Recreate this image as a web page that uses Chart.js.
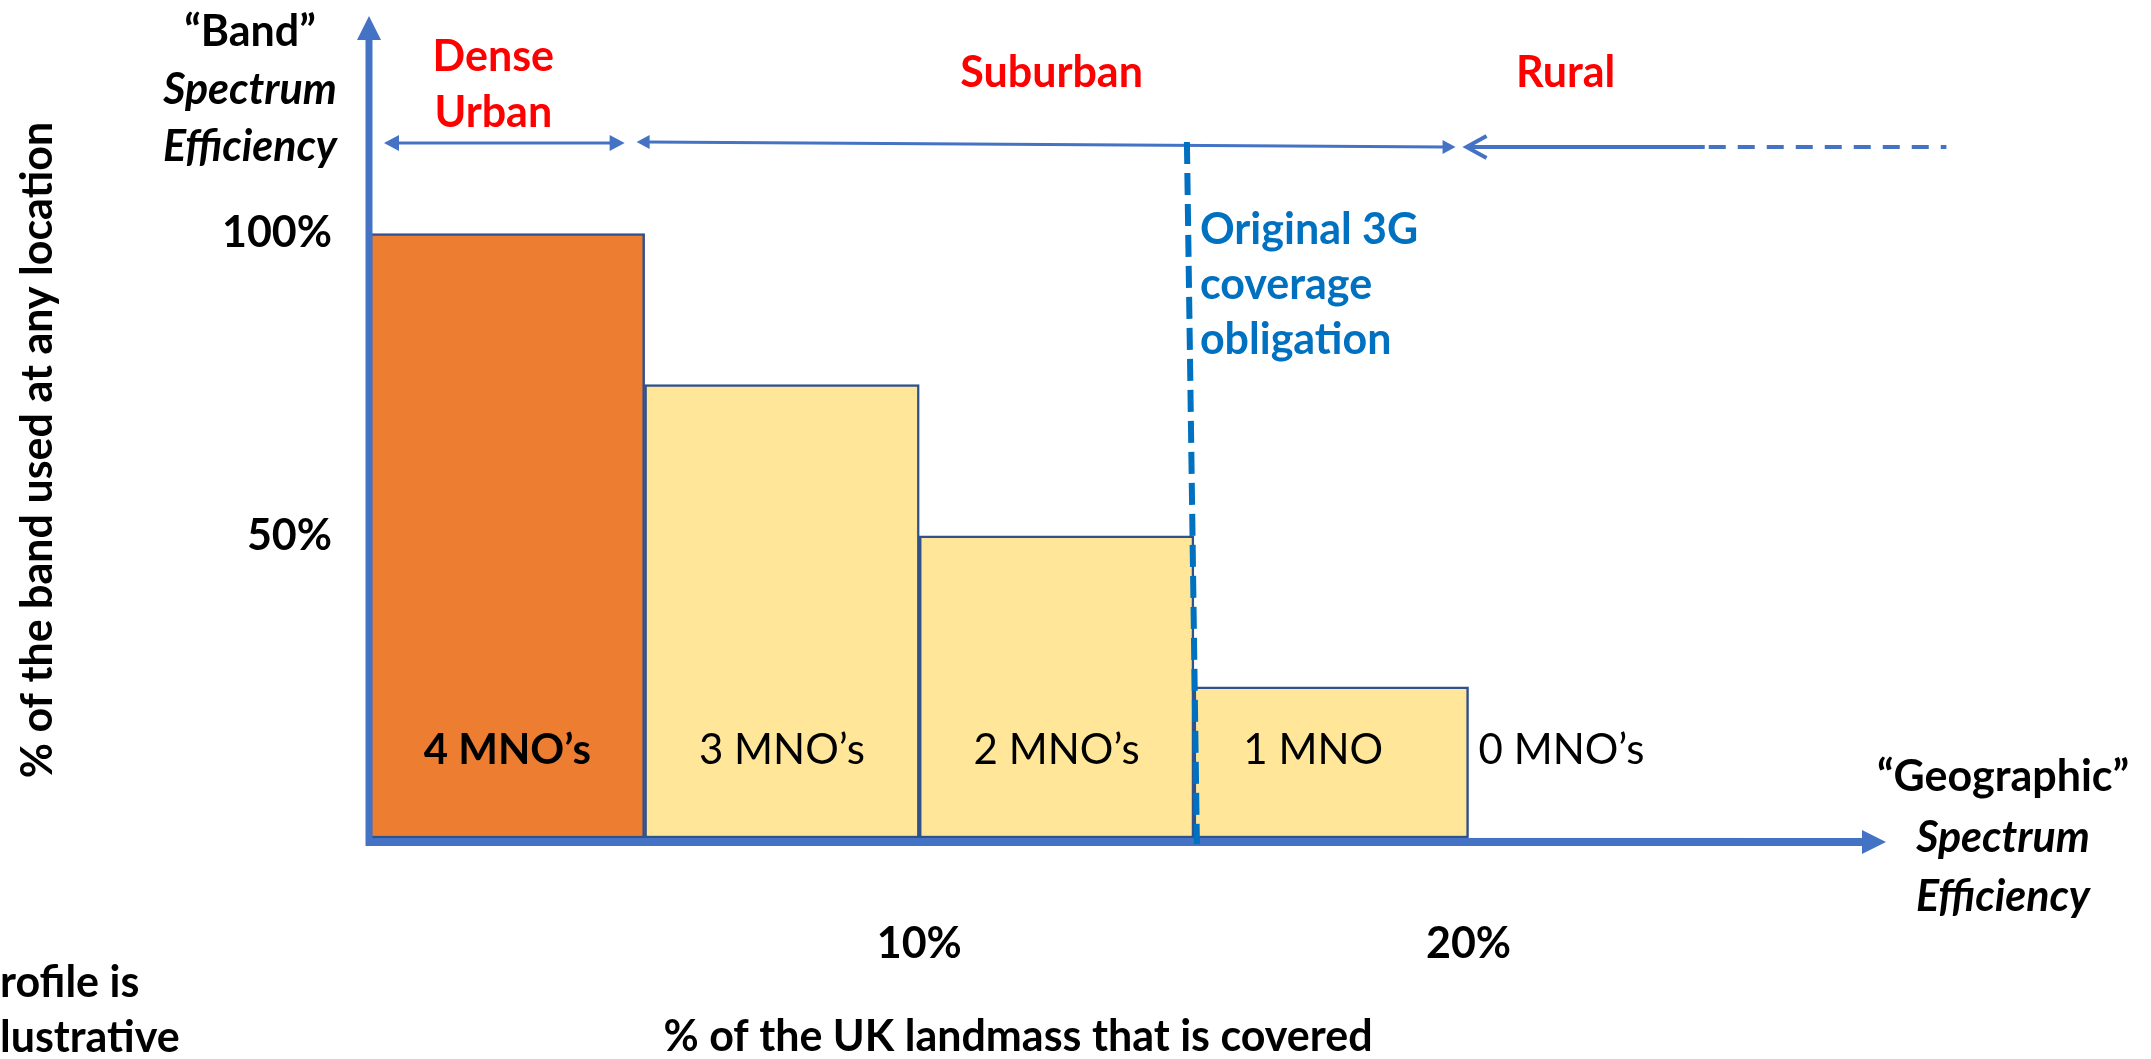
<!DOCTYPE html>
<html>
<head>
<meta charset="utf-8">
<script src="https://cdn.jsdelivr.net/npm/chart.js@4.4.1/dist/chart.umd.min.js"></script>
<style>
  html, body { margin: 0; padding: 0; background: #fff; overflow: hidden; }
  canvas { display: block; }
</style>
</head>
<body>
<canvas id="chart" width="2151" height="1059"></canvas>
<script>
/* ---------------------------------------------------------------
   DATA
--------------------------------------------------------------- */
const mnoLabels = ["4 MNO’s", "3 MNO’s", "2 MNO’s", "1 MNO", "0 MNO’s"];
const coverageMid = [2.5, 7.5, 12.5, 17.5, 22.5];   // % of UK landmass (centre of each band)
const bandUsed = [100, 75, 50, 25, 0];               // % of the band used
const yTicks = [50, 100];
const xTicks = [10, 20];
const areaNames = ["Dense\nUrban", "Suburban", "Rural"];
const areaFrom = [0, 5, 20];
const areaTo = [5, 20, 28.7];
const obligationAt = 15;                             // original 3G coverage obligation (%)

/* ---------------------------------------------------------------
   STYLE
--------------------------------------------------------------- */
const FONT = "Lato";
const AXIS_BLUE = "#4472C4";
const BAR_COLOURS = ["#ED7D31", "#FFE699", "#FFE699", "#FFE699", "#FFE699"];

function arrowHead(ctx, x, y, dir, len, half, open) {
    ctx.beginPath();
    ctx.moveTo(x + dir * len, y - half);
    ctx.lineTo(x, y);
    ctx.lineTo(x + dir * len, y + half);
    if (open) { ctx.stroke(); } else { ctx.closePath(); ctx.fill(); }
}

function text(ctx, str, x, y, font, colour, align) {
    ctx.font = font;
    ctx.fillStyle = colour;
    ctx.textAlign = align || "center";
    ctx.textBaseline = "middle";
    ctx.fillText(str, x, y);
}

/* ---------------------------------------------------------------
   ANNOTATIONS (axes, arrows, labels)
--------------------------------------------------------------- */
const annotations = {
    id: "annotations",
    afterDatasetsDraw(chart) {
        const { ctx, chartArea: a, scales: { x, y } } = chart;
        const bold = "bold 43px " + FONT;
        const boldItalic = "italic bold 43px " + FONT;
        ctx.save();

        // bar labels
        const meta = chart.getDatasetMeta(0);
        meta.data.forEach((bar, i) => {
            const ty = a.bottom - 88;
            const f = (i === 0 ? "bold " : "") + "42px " + FONT;
            if (bandUsed[i] === 0) {
                text(ctx, mnoLabels[i], bar.x - bar.width / 2 + 10, ty, f, "#000", "left");
            } else {
                text(ctx, mnoLabels[i], bar.x - (i === 3 ? 18 : 0), ty, f, "#000");
            }
        });

        // axes with arrow heads
        ctx.strokeStyle = AXIS_BLUE;
        ctx.fillStyle = AXIS_BLUE;
        ctx.lineWidth = 7;
        ctx.beginPath();
        ctx.moveTo(a.left - 1, a.bottom + 8);
        ctx.lineTo(a.left - 1, a.top + 20);
        ctx.stroke();
        ctx.beginPath();
        ctx.moveTo(a.left - 13, a.top + 24);
        ctx.lineTo(a.left - 1, a.top);
        ctx.lineTo(a.left + 11, a.top + 24);
        ctx.closePath();
        ctx.fill();

        ctx.lineWidth = 8;
        ctx.beginPath();
        ctx.moveTo(a.left + 2, a.bottom + 4);
        ctx.lineTo(a.right - 20, a.bottom + 4);
        ctx.stroke();
        arrowHead(ctx, a.right, a.bottom + 4, -1, 24, 12, false);

        // area arrows
        const ay = y.getPixelForValue(115);
        ctx.lineWidth = 3;
        // dense urban
        let x0 = x.getPixelForValue(areaFrom[0]) + 14, x1 = x.getPixelForValue(areaTo[0]) - 20;
        ctx.beginPath(); ctx.moveTo(x0 + 10, ay); ctx.lineTo(x1 - 10, ay); ctx.stroke();
        arrowHead(ctx, x0, ay, 1, 15, 8, false);
        arrowHead(ctx, x1, ay, -1, 15, 8, false);
        // suburban
        x0 = x.getPixelForValue(areaFrom[1]) - 8; x1 = x.getPixelForValue(areaTo[1]) - 13;
        ctx.beginPath(); ctx.moveTo(x0 + 10, ay - 1); ctx.lineTo(x1 - 10, ay + 4); ctx.stroke();
        arrowHead(ctx, x0, ay - 1, 1, 13, 7, false);
        arrowHead(ctx, x1, ay + 4, -1, 13, 7, false);
        // rural
        x0 = x.getPixelForValue(areaFrom[2]) - 2;
        const xs = x.getPixelForValue(24.3);
        x1 = x.getPixelForValue(areaTo[2]);
        ctx.lineWidth = 4;
        ctx.beginPath(); ctx.moveTo(x0 + 2, ay + 4); ctx.lineTo(xs, ay + 4); ctx.stroke();
        arrowHead(ctx, x0, ay + 4, 1, 20, 11, true);
        ctx.setLineDash([17, 12]);
        ctx.beginPath(); ctx.moveTo(xs + 4, ay + 4); ctx.lineTo(x1, ay + 4); ctx.stroke();
        ctx.setLineDash([]);

        // area names
        const red = "#FF0000";
        const dx = (x.getPixelForValue(areaFrom[0]) + x.getPixelForValue(areaTo[0])) / 2 - 14;
        areaNames[0].split("\n").forEach((s, i) => text(ctx, s, dx, 57 + i * 56, bold, red));
        text(ctx, areaNames[1], (x.getPixelForValue(areaFrom[1]) + x.getPixelForValue(areaTo[1])) / 2 - 5, 73, bold, red);
        text(ctx, areaNames[2], x.getPixelForValue(areaFrom[2]) + 97, 73, bold, red);

        // obligation line
        const ox = x.getPixelForValue(obligationAt);
        ctx.strokeStyle = "#0070C0";
        ctx.lineWidth = 6;
        ctx.setLineDash([22, 9]);
        ctx.beginPath(); ctx.moveTo(ox - 7, ay - 1); ctx.lineTo(ox + 3, a.bottom + 6); ctx.stroke();
        ctx.setLineDash([]);
        ["Original 3G", "coverage", "obligation"].forEach((s, i) =>
            text(ctx, s, ox + 6, 230 + i * 55, bold, "#0070C0", "left"));

        // axis captions
        text(ctx, "“Band”", 250, 32, bold, "#000");
        text(ctx, "Spectrum", 250, 90, boldItalic, "#000");
        text(ctx, "Efficiency", 250, 147, boldItalic, "#000");

        text(ctx, "“Geographic”", 2003, 777, bold, "#000");
        text(ctx, "Spectrum", 2003, 838, boldItalic, "#000");
        text(ctx, "Efficiency", 2003, 897, boldItalic, "#000");

        text(ctx, "% of the UK landmass that is covered", 1018, 1037, bold, "#000");
        text(ctx, "rofile is", 0, 983, bold, "#000", "left");
        text(ctx, "lustrative", 0, 1038, bold, "#000", "left");

        ctx.translate(38, 450);
        ctx.rotate(-Math.PI / 2);
        text(ctx, "% of the band used at any location", 0, 0, bold, "#000");

        ctx.restore();
    }
};

/* ---------------------------------------------------------------
   CHART
--------------------------------------------------------------- */
new Chart(document.getElementById("chart"), {
    type: "bar",
    data: {
        datasets: [{
            data: coverageMid.map((v, i) => ({ x: v, y: bandUsed[i] })),
            backgroundColor: BAR_COLOURS,
            borderColor: "#2F528F",
            borderWidth: bandUsed.map(v => v === 0 ? 0 : 2.5),
            borderSkipped: false,
            barPercentage: 1,
            categoryPercentage: 1
        }]
    },
    options: {
        responsive: false,
        animation: false,
        layout: { padding: { top: 16, right: 265, left: 0, bottom: 0 } },
        plugins: { legend: { display: false }, tooltip: { enabled: false } },
        scales: {
            x: {
                type: "linear",
                min: 0,
                max: 27.6,
                offset: false,
                grid: { display: false, drawTicks: false },
                border: { display: false },
                afterBuildTicks: s => { s.ticks = xTicks.map(v => ({ value: v })); },
                afterFit: s => { s.height = 221; s.paddingLeft = 0; s.paddingRight = 0; },
                ticks: {
                    callback: v => v + "%",
                    color: "#000",
                    font: { family: FONT, size: 43, weight: "bold" },
                    padding: 80,
                    maxRotation: 0,
                    autoSkip: false
                }
            },
            y: {
                min: 0,
                max: 136,
                grid: { display: false, drawTicks: false },
                border: { display: false },
                afterBuildTicks: s => { s.ticks = yTicks.map(v => ({ value: v })); },
                afterFit: s => { s.width = 370; s.paddingTop = 0; s.paddingBottom = 0; },
                ticks: {
                    callback: v => v + "%",
                    color: "#000",
                    font: { family: FONT, size: 43, weight: "bold" },
                    padding: 38
                }
            }
        }
    },
    plugins: [annotations]
});
</script>
</body>
</html>
